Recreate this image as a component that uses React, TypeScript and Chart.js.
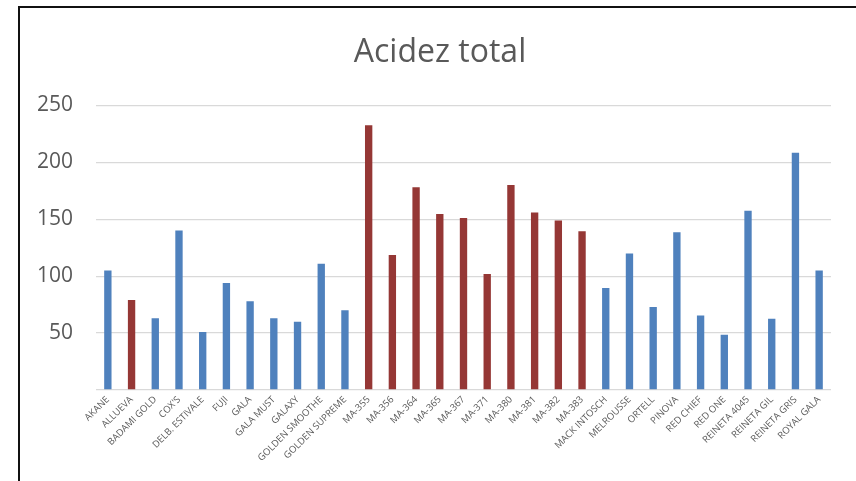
import React, { useEffect, useRef } from "react";
import { Chart, registerables } from "chart.js";

Chart.register(...registerables);

const categories = [
  "AKANE", "ALLUEVA", "BADAMI GOLD", "COX'S", "DELB. ESTIVALE", "FUJI", "GALA",
  "GALA MUST", "GALAXY", "GOLDEN SMOOTHE", "GOLDEN SUPREME", "MA-355", "MA-356",
  "MA-364", "MA-365", "MA-367", "MA-371", "MA-380", "MA-381", "MA-382", "MA-383",
  "MACK INTOSCH", "MELROUSSE", "ORTELL", "PINOVA", "RED CHIEF", "RED ONE",
  "REINETA 4045", "REINETA GIL", "REINETA GRIS", "ROYAL GALA",
];

const acidezValues = [
  105, 79, 63, 140, 51, 94, 78,
  63, 60, 111, 70, 232.5, 118.5,
  178, 154.5, 151, 102, 180, 156, 149, 139.5,
  89.5, 120, 73, 138.5, 65.5, 48.5,
  157.5, 62.5, 208.5, 105,
];

const redCategories = [
  "ALLUEVA", "MA-355", "MA-356", "MA-364", "MA-365", "MA-367", "MA-371",
  "MA-380", "MA-381", "MA-382", "MA-383",
];

const yTickValues = [0, 50, 100, 150, 200, 250];

const BLUE = "#4F81BD";
const RED = "#953735";

export default function App() {
  const canvasRef = useRef<HTMLCanvasElement | null>(null);

  useEffect(() => {
    const canvas = canvasRef.current;
    if (!canvas) return;
    const colors = categories.map((c) => (redCategories.includes(c) ? RED : BLUE));
    const chart = new Chart(canvas, {
      type: "bar",
      data: {
        labels: categories,
        datasets: [
          {
            label: "Acidez total",
            data: acidezValues,
            backgroundColor: colors,
            borderWidth: 0,
            barPercentage: 0.31,
            categoryPercentage: 1,
          },
        ],
      },
      options: {
        animation: false,
        responsive: false,
        layout: { padding: { left: 24, right: 0, top: 0, bottom: 0 } },
        plugins: {
          legend: { display: false },
          tooltip: { enabled: false },
          title: {
            display: true,
            text: "Acidez total",
            color: "#595959",
            font: { family: "'Open Sans'", size: 32, weight: "normal" },
            padding: { top: 34, bottom: 33 },
          },
        },
        scales: {
          x: {
            grid: { display: false, drawTicks: false },
            border: { display: false },
            ticks: {
              autoSkip: false,
              minRotation: 45,
              maxRotation: 45,
              color: "#595959",
              font: { family: "'Open Sans'", size: 9.5 },
              padding: 4,
            },
            afterFit: (scale: any) => {
              scale.height = 91;
            },
          },
          y: {
            min: 0,
            max: 250,
            afterBuildTicks: (scale: any) => {
              scale.ticks = yTickValues.map((v) => ({ value: v }));
            },
            grid: { color: "#d9d9d9", lineWidth: 1.3, drawTicks: false },
            border: { display: false },
            ticks: {
              color: "#595959",
              font: { family: "'Open Sans'", size: 21 },
              padding: 23,
              callback: (v: any) => (Number(v) === 0 ? "" : String(v)),
            },
            afterFit: (scale: any) => {
              scale.width = 72;
            },
          },
          yRight: {
            position: "right",
            min: 0,
            max: 250,
            grid: { display: false, drawTicks: false },
            border: { display: false },
            ticks: { display: false },
            afterFit: (scale: any) => {
              scale.width = 25;
            },
          },
        },
      },
    });
    return () => chart.destroy();
  }, []);

  return (
    <div
      style={{
        position: "absolute",
        left: 0,
        top: 0,
        width: 856,
        height: 481,
        overflow: "hidden",
        background: "#fff",
      }}
    >
      <div
        style={{
          position: "absolute",
          left: 18,
          top: 6,
          width: 900,
          height: 600,
          borderLeft: "2px solid #111",
          borderTop: "2px solid #111",
          boxSizing: "border-box",
        }}
      />
      <canvas
        ref={canvasRef}
        width={856}
        height={481}
        style={{ position: "absolute", left: 0, top: 0, width: 856, height: 481 }}
      />
    </div>
  );
}
